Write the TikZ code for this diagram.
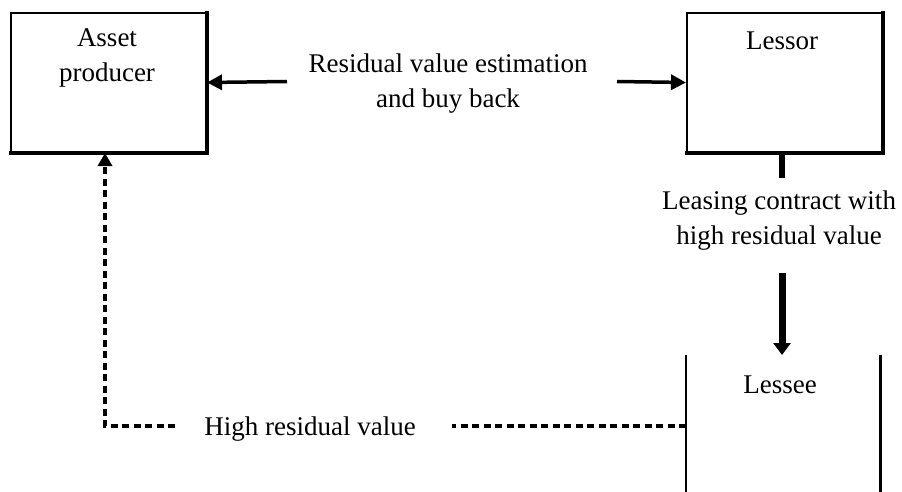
\documentclass[tikz,border=0pt]{standalone}
\usepackage{fontspec}
\setmainfont{Liberation Serif}
\usetikzlibrary{arrows.meta}
\begin{document}
\begin{tikzpicture}[x=1pt,y=-1pt,
  lbl/.style={font=\fontsize{27}{35}\selectfont, align=center, inner sep=0pt},
  boxnode/.style={draw, line width=2pt, minimum width=195pt, minimum height=139pt, inner sep=0pt},
  shadowedge/.style={line width=3.5pt},
  solidarrow/.style={line width=3.5pt, -{Triangle[length=15pt,width=15pt]}},
  thickarrow/.style={line width=7pt, -{Triangle[length=12pt,width=17pt]}},
  thickline/.style={line width=6.5pt},
  dashline/.style={line width=4.5pt, dash pattern=on 7pt off 4.5pt},
  dasharrow/.style={dashline, -{Triangle[length=13pt,width=14pt]}}]
\useasboundingbox (0,0) rectangle (902,492);

% Boxes
\node[boxnode, anchor=north west] (producer) at (10,12) {};
\draw[shadowedge] ([yshift=1pt]producer.north east) -- (producer.south east) -- ([xshift=-1pt]producer.south west);
\node[lbl] (producertext) at (107,58) {Asset\\producer};

\node[boxnode, anchor=north west] (lessor) at (686,12) {};
\draw[shadowedge] ([yshift=1pt]lessor.north east) -- (lessor.south east) -- ([xshift=-1pt]lessor.south west);
\node[lbl, anchor=base] (lessortext) at (782,50) {Lessor};

% Lessee (open sides)
\node[minimum width=194pt, minimum height=137pt, inner sep=0pt, anchor=north west] (lessee) at (686,355) {};
\draw[line width=2pt] (lessee.north west) -- (lessee.south west);
\draw[line width=3.5pt] (lessee.north east) -- (lessee.south east);
\node[lbl, anchor=base] (lesseetext) at (780,393) {Lessee};

% Top label and arrows
\node[lbl] (rv) at (448,84) {Residual value estimation\\and buy back};
\coordinate (rvL) at (287,81.5);
\coordinate (rvR) at (617,81.5);
\draw[solidarrow] (rvL) -- (producer.east);
\draw[solidarrow] (rvR) -- (lessor.west);

% Leasing contract
\node[lbl] (lc) at (779,221) {Leasing contract with\\high residual value};
\coordinate (lcTop) at (782,178);
\coordinate (lcBot) at (782,273);
\draw[thickline] (lessor.south -| lcTop) -- (lcTop);
\draw[thickarrow] (lcBot) -- (lessee.north -| lcBot);

% High residual value
\node[lbl, anchor=base] (hrv) at (310,435) {High residual value};
\coordinate (dR) at (686,426);
\coordinate (dM) at (452,426);
\coordinate (dL) at (175,426);
\coordinate (dC) at (105,426);
\draw[dashline] (dR) -- (dM);
\draw[dasharrow] (dL) -- (dC) -- (dC |- producer.south);
\end{tikzpicture}
\end{document}
